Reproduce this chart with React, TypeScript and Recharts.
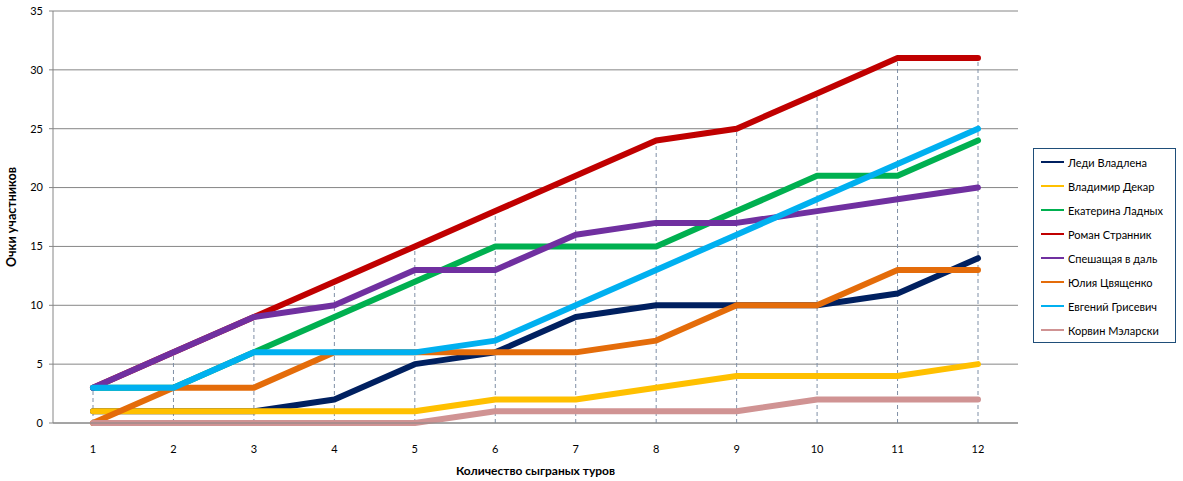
import React from 'react';
import {
    LineChart,
    Line,
    XAxis,
    YAxis,
    CartesianGrid,
    ReferenceLine,
    Label
} from 'recharts';

const tours = [1, 2, 3, 4, 5, 6, 7, 8, 9, 10, 11, 12];

const ledi = [1, 1, 1, 2, 5, 6, 9, 10, 10, 10, 11, 14];
const vladimir = [1, 1, 1, 1, 1, 2, 2, 3, 4, 4, 4, 5];
const ekaterina = [3, 3, 6, 9, 12, 15, 15, 15, 18, 21, 21, 24];
const roman = [3, 6, 9, 12, 15, 18, 21, 24, 25, 28, 31, 31];
const speshashaya = [3, 6, 9, 10, 13, 13, 16, 17, 17, 18, 19, 20];
const yulia = [0, 3, 3, 6, 6, 6, 6, 7, 10, 10, 13, 13];
const evgeniy = [3, 3, 6, 6, 6, 7, 10, 13, 16, 19, 22, 25];
const korvin = [0, 0, 0, 0, 0, 1, 1, 1, 1, 2, 2, 2];

const yTicks = [0, 5, 10, 15, 20, 25, 30, 35];

const series = [
    { key: 'ledi', name: 'Леди Владлена', values: ledi, color: '#002060' },
    { key: 'vladimir', name: 'Владимир Декар', values: vladimir, color: '#FFC000' },
    { key: 'ekaterina', name: 'Екатерина Ладных', values: ekaterina, color: '#00B050' },
    { key: 'roman', name: 'Роман Странник', values: roman, color: '#C00000' },
    { key: 'speshashaya', name: 'Спешащая в даль', values: speshashaya, color: '#7030A0' },
    { key: 'yulia', name: 'Юлия Цвященко', values: yulia, color: '#E46C0A' },
    { key: 'evgeniy', name: 'Евгений Грисевич', values: evgeniy, color: '#00B0F0' },
    { key: 'korvin', name: 'Корвин Мэларски', values: korvin, color: '#D09393' }
];

const data = tours.map((t, i) => {
    const row: Record<string, number> = { tour: t };
    series.forEach(s => { row[s.key] = s.values[i]; });
    return row;
});

// drop lines go from the axis up to the highest value in each tour
const dropTops = tours.map((t, i) => Math.max(...series.map(s => s.values[i])));

const FONT = 'Lato, "Open Sans", sans-serif';

function LegendBox() {
    return (
        <div style={{
            position: 'absolute',
            left: 1033,
            top: 148,
            width: 143,
            height: 195,
            border: '1px solid #1F4E79',
            background: '#fff',
            boxSizing: 'border-box',
            padding: '1px 0 0 7px',
            fontFamily: FONT,
            fontSize: 11,
            color: '#000'
        }}>
            {series.map(s => (
                <div key={s.key} style={{ display: 'flex', alignItems: 'center', height: 24 }}>
                    <div style={{ width: 23, height: 2, background: s.color, marginRight: 4 }} />
                    <span>{s.name}</span>
                </div>
            ))}
        </div>
    );
}

export default function App() {
    return (
        <div style={{ position: 'absolute', left: 0, top: 0, width: 1183, height: 481, background: '#fff' }}>
            <LineChart
                width={1183}
                height={481}
                data={data}
                margin={{ top: 11, right: 165, bottom: 0, left: 0 }}
            >
                <CartesianGrid vertical={false} stroke="#868686" strokeWidth={1} />
                <XAxis
                    dataKey="tour"
                    type="category"
                    height={58}
                    padding={{ left: 40, right: 40 }}
                    stroke="#868686"
                    tickLine={false}
                    tickMargin={16}
                    tick={{ fill: '#000', fontSize: 11, fontFamily: FONT }}
                >
                    <Label
                        value="Количество  сыграных  туров"
                        position="insideBottom"
                        offset={6}
                        style={{ fontFamily: FONT, fontSize: 12, fontWeight: 700, fill: '#000', whiteSpace: 'pre' }}
                    />
                </XAxis>
                <YAxis
                    width={53}
                    domain={[0, 35]}
                    ticks={yTicks}
                    interval={0}
                    stroke="#868686"
                    tickSize={4}
                    tickMargin={6}
                    tick={{ fill: '#000', fontSize: 11, fontFamily: FONT }}
                >
                    <Label
                        value="Очки участников"
                        angle={-90}
                        position="insideLeft"
                        offset={12}
                        style={{ fontFamily: FONT, fontSize: 12.5, fontWeight: 700, fill: '#000', textAnchor: 'middle' }}
                    />
                </YAxis>
                {tours.map((t, i) => (
                    <ReferenceLine
                        key={'drop' + t}
                        segment={[{ x: t, y: 0 }, { x: t, y: dropTops[i] }]}
                        stroke="#7F8FA6"
                        strokeDasharray="4 3"
                        strokeWidth={1}
                    />
                ))}
                {series.map(s => (
                    <Line
                        key={s.key}
                        dataKey={s.key}
                        name={s.name}
                        stroke={s.color}
                        strokeWidth={6}
                        strokeLinecap="round"
                        strokeLinejoin="round"
                        dot={false}
                        activeDot={false}
                        isAnimationActive={false}
                    />
                ))}
            </LineChart>
            <LegendBox />
        </div>
    );
}
